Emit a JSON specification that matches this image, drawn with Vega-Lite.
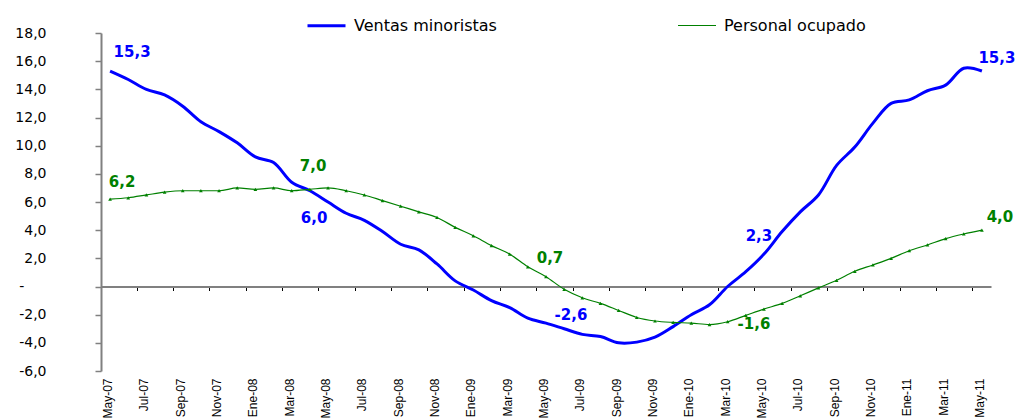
{
  "$schema": "https://vega.github.io/schema/vega-lite/v6.json",
  "autosize": {"type": "none"},
  "padding": {"left": 101, "top": 33, "right": 26, "bottom": 48},
  "width": 890,
  "height": 338,
  "background": "white",
  "config": {
    "view": {"stroke": null},
    "font": "DejaVu Sans",
    "locale": {"number": {"decimal": ",", "thousands": ".", "grouping": [3], "currency": ["", " €"], "minus": "-"}}
  },
  "data": {"values": [
    {"mes": "May-07", "Ventas minoristas": 15.3, "Personal ocupado": 6.2},
    {"mes": "Jun-07", "Ventas minoristas": 14.7, "Personal ocupado": 6.3},
    {"mes": "Jul-07", "Ventas minoristas": 14.0, "Personal ocupado": 6.5},
    {"mes": "Ago-07", "Ventas minoristas": 13.6, "Personal ocupado": 6.7},
    {"mes": "Sep-07", "Ventas minoristas": 12.8, "Personal ocupado": 6.8},
    {"mes": "Oct-07", "Ventas minoristas": 11.7, "Personal ocupado": 6.8},
    {"mes": "Nov-07", "Ventas minoristas": 11.0, "Personal ocupado": 6.8},
    {"mes": "Dic-07", "Ventas minoristas": 10.2, "Personal ocupado": 7.0},
    {"mes": "Ene-08", "Ventas minoristas": 9.2, "Personal ocupado": 6.9},
    {"mes": "Feb-08", "Ventas minoristas": 8.8, "Personal ocupado": 7.0},
    {"mes": "Mar-08", "Ventas minoristas": 7.4, "Personal ocupado": 6.8},
    {"mes": "Abr-08", "Ventas minoristas": 6.8, "Personal ocupado": 6.9},
    {"mes": "May-08", "Ventas minoristas": 6.0, "Personal ocupado": 7.0},
    {"mes": "Jun-08", "Ventas minoristas": 5.2, "Personal ocupado": 6.8},
    {"mes": "Jul-08", "Ventas minoristas": 4.7, "Personal ocupado": 6.5},
    {"mes": "Ago-08", "Ventas minoristas": 3.9, "Personal ocupado": 6.1},
    {"mes": "Sep-08", "Ventas minoristas": 3.0, "Personal ocupado": 5.7},
    {"mes": "Oct-08", "Ventas minoristas": 2.6, "Personal ocupado": 5.3},
    {"mes": "Nov-08", "Ventas minoristas": 1.6, "Personal ocupado": 4.9},
    {"mes": "Dic-08", "Ventas minoristas": 0.4, "Personal ocupado": 4.2},
    {"mes": "Ene-09", "Ventas minoristas": -0.25, "Personal ocupado": 3.6},
    {"mes": "Feb-09", "Ventas minoristas": -1.0, "Personal ocupado": 2.9},
    {"mes": "Mar-09", "Ventas minoristas": -1.5, "Personal ocupado": 2.3},
    {"mes": "Abr-09", "Ventas minoristas": -2.25, "Personal ocupado": 1.4},
    {"mes": "May-09", "Ventas minoristas": -2.6, "Personal ocupado": 0.7},
    {"mes": "Jun-09", "Ventas minoristas": -3.0, "Personal ocupado": -0.2},
    {"mes": "Jul-09", "Ventas minoristas": -3.4, "Personal ocupado": -0.8},
    {"mes": "Ago-09", "Ventas minoristas": -3.55, "Personal ocupado": -1.2},
    {"mes": "Sep-09", "Ventas minoristas": -4.0, "Personal ocupado": -1.7},
    {"mes": "Oct-09", "Ventas minoristas": -3.95, "Personal ocupado": -2.2},
    {"mes": "Nov-09", "Ventas minoristas": -3.6, "Personal ocupado": -2.45},
    {"mes": "Dic-09", "Ventas minoristas": -2.85, "Personal ocupado": -2.55},
    {"mes": "Ene-10", "Ventas minoristas": -2.0, "Personal ocupado": -2.6},
    {"mes": "Feb-10", "Ventas minoristas": -1.3, "Personal ocupado": -2.7},
    {"mes": "Mar-10", "Ventas minoristas": 0.0, "Personal ocupado": -2.5},
    {"mes": "Abr-10", "Ventas minoristas": 1.05, "Personal ocupado": -2.05},
    {"mes": "May-10", "Ventas minoristas": 2.3, "Personal ocupado": -1.6},
    {"mes": "Jun-10", "Ventas minoristas": 3.9, "Personal ocupado": -1.2},
    {"mes": "Jul-10", "Ventas minoristas": 5.3, "Personal ocupado": -0.66},
    {"mes": "Ago-10", "Ventas minoristas": 6.5, "Personal ocupado": -0.1},
    {"mes": "Sep-10", "Ventas minoristas": 8.6, "Personal ocupado": 0.44},
    {"mes": "Oct-10", "Ventas minoristas": 9.9, "Personal ocupado": 1.08},
    {"mes": "Nov-10", "Ventas minoristas": 11.6, "Personal ocupado": 1.53},
    {"mes": "Dic-10", "Ventas minoristas": 13.0, "Personal ocupado": 2.0},
    {"mes": "Ene-11", "Ventas minoristas": 13.25, "Personal ocupado": 2.54},
    {"mes": "Feb-11", "Ventas minoristas": 13.9, "Personal ocupado": 2.95},
    {"mes": "Mar-11", "Ventas minoristas": 14.3, "Personal ocupado": 3.4},
    {"mes": "Abr-11", "Ventas minoristas": 15.5, "Personal ocupado": 3.73},
    {"mes": "May-11", "Ventas minoristas": 15.3, "Personal ocupado": 4.0}
  ]},
  "transform": [{"fold": ["Ventas minoristas", "Personal ocupado"], "as": ["serie", "valor"]}],
  "resolve": {"axis": {"x": "independent"}},
  "encoding": {
    "y": {
      "field": "valor", "type": "quantitative",
      "scale": {"domain": [-6, 18], "nice": false, "zero": false},
      "axis": {
        "title": null, "grid": false,
        "values": [-6, -4, -2, 0, 2, 4, 6, 8, 10, 12, 14, 16, 18],
        "domainColor": "#808080", "domainWidth": 2, "tickColor": "#808080", "tickSize": 6, "tickWidth": 1.5,
        "labelPadding": 49, "labelFont": "DejaVu Sans", "labelFontSize": 14, "labelColor": "#000000",
        "labelExpr": "datum.value == 0 ? '-\u00a0\u00a0\u00a0\u00a0\u00a0\u200b' : replace(replace(format(datum.value, '.1f'), '.', ','), '\u2212', '-')"
      }
    }
  },
  "layer": [
    {
      "encoding": {
        "x": {
          "field": "mes", "type": "ordinal", "sort": null,
          "scale": {"type": "band", "paddingInner": 0, "paddingOuter": 0},
          "axis": {
            "orient": "bottom", "title": null, "domain": false, "ticks": false, "grid": false,
            "values": ["May-07","Jul-07","Sep-07","Nov-07","Ene-08","Mar-08","May-08","Jul-08","Sep-08","Nov-08","Ene-09","Mar-09","May-09","Jul-09","Sep-09","Nov-09","Ene-10","Mar-10","May-10","Jul-10","Sep-10","Nov-10","Ene-11","Mar-11","May-11"],
            "labelAngle": -90, "labelAlign": "right", "labelBaseline": "middle", "labelPadding": 7,
            "labelFont": "Liberation Sans", "labelFontSize": 12, "labelColor": "#000000", "labelOverlap": false, "labelOffset": -2
          }
        }
      },
      "layer": [
        {
          "transform": [{"filter": "datum.serie == 'Ventas minoristas'"}],
          "mark": {"type": "line", "interpolate": "catmull-rom"},
          "encoding": {
            "color": {
              "field": "serie", "type": "nominal",
              "scale": {"domain": ["Ventas minoristas", "Personal ocupado"], "range": ["#0000FF", "#008000"]},
              "legend": {
                "orient": "none", "legendX": 205, "legendY": -28, "direction": "horizontal", "title": null,
                "symbolType": "stroke", "symbolSize": 1444, "labelFont": "DejaVu Sans", "labelFontSize": 16,
                "labelColor": "#000000", "columnPadding": 178, "labelOffset": 7
              }
            },
            "strokeWidth": {
              "field": "serie", "type": "nominal",
              "scale": {"domain": ["Ventas minoristas", "Personal ocupado"], "range": [3, 1.2]},
              "legend": {
                "orient": "none", "legendX": 205, "legendY": -28, "direction": "horizontal", "title": null,
                "symbolType": "stroke", "symbolSize": 1444, "labelFont": "DejaVu Sans", "labelFontSize": 16,
                "labelColor": "#000000", "columnPadding": 178, "labelOffset": 7
              }
            }
          }
        },
        {
          "transform": [{"filter": "datum.serie == 'Personal ocupado'"}],
          "mark": {"type": "line", "interpolate": "monotone"},
          "encoding": {
            "color": {"field": "serie", "type": "nominal"},
            "strokeWidth": {"field": "serie", "type": "nominal"}
          }
        },
        {
          "transform": [{"filter": "datum.serie == 'Personal ocupado'"}],
          "mark": {"type": "point", "shape": "triangle-up", "filled": true, "size": 14, "color": "#008000", "opacity": 1}
        },
        {
          "transform": [{"filter": "datum.serie == 'Ventas minoristas' && datum.mes == 'May-07'"}],
          "mark": {"type": "text", "dx": 22, "dy": -19, "font": "DejaVu Sans", "fontSize": 15, "fontWeight": "bold", "color": "#0000FF"},
          "encoding": {"text": {"field": "valor", "type": "quantitative", "format": ".1f"}}
        },
        {
          "transform": [{"filter": "datum.serie == 'Ventas minoristas' && datum.mes == 'May-08'"}],
          "mark": {"type": "text", "dx": -14, "dy": 16, "font": "DejaVu Sans", "fontSize": 15, "fontWeight": "bold", "color": "#0000FF"},
          "encoding": {"text": {"field": "valor", "type": "quantitative", "format": ".1f"}}
        },
        {
          "transform": [{"filter": "datum.serie == 'Ventas minoristas' && datum.mes == 'May-09'"}],
          "mark": {"type": "text", "dx": 25, "dy": -8, "font": "DejaVu Sans", "fontSize": 15, "fontWeight": "bold", "color": "#0000FF"},
          "encoding": {"text": {"field": "valor", "type": "quantitative", "format": ".1f"}}
        },
        {
          "transform": [{"filter": "datum.serie == 'Ventas minoristas' && datum.mes == 'May-10'"}],
          "mark": {"type": "text", "dx": -5, "dy": -18, "font": "DejaVu Sans", "fontSize": 15, "fontWeight": "bold", "color": "#0000FF"},
          "encoding": {"text": {"field": "valor", "type": "quantitative", "format": ".1f"}}
        },
        {
          "transform": [{"filter": "datum.serie == 'Ventas minoristas' && datum.mes == 'May-11'"}],
          "mark": {"type": "text", "dx": 15, "dy": -13, "font": "DejaVu Sans", "fontSize": 15, "fontWeight": "bold", "color": "#0000FF"},
          "encoding": {"text": {"field": "valor", "type": "quantitative", "format": ".1f"}}
        },
        {
          "transform": [{"filter": "datum.serie == 'Personal ocupado' && datum.mes == 'May-07'"}],
          "mark": {"type": "text", "dx": 12, "dy": -17, "font": "DejaVu Sans", "fontSize": 15, "fontWeight": "bold", "color": "#008000"},
          "encoding": {"text": {"field": "valor", "type": "quantitative", "format": ".1f"}}
        },
        {
          "transform": [{"filter": "datum.serie == 'Personal ocupado' && datum.mes == 'May-08'"}],
          "mark": {"type": "text", "dx": -15, "dy": -22, "font": "DejaVu Sans", "fontSize": 15, "fontWeight": "bold", "color": "#008000"},
          "encoding": {"text": {"field": "valor", "type": "quantitative", "format": ".1f"}}
        },
        {
          "transform": [{"filter": "datum.serie == 'Personal ocupado' && datum.mes == 'May-09'"}],
          "mark": {"type": "text", "dx": 4, "dy": -19, "font": "DejaVu Sans", "fontSize": 15, "fontWeight": "bold", "color": "#008000"},
          "encoding": {"text": {"field": "valor", "type": "quantitative", "format": ".1f"}}
        },
        {
          "transform": [{"filter": "datum.serie == 'Personal ocupado' && datum.mes == 'May-10'"}],
          "mark": {"type": "text", "dx": -10, "dy": 15, "font": "DejaVu Sans", "fontSize": 15, "fontWeight": "bold", "color": "#008000"},
          "encoding": {"text": {"field": "valor", "type": "quantitative", "format": ".1f"}}
        },
        {
          "transform": [{"filter": "datum.serie == 'Personal ocupado' && datum.mes == 'May-11'"}],
          "mark": {"type": "text", "dx": 18, "dy": -13, "font": "DejaVu Sans", "fontSize": 15, "fontWeight": "bold", "color": "#008000"},
          "encoding": {"text": {"field": "valor", "type": "quantitative", "format": ".1f"}}
        }
      ]
    },
    {
      "mark": {"type": "point", "opacity": 0},
      "encoding": {
        "x": {
          "field": "mes", "type": "ordinal", "sort": null,
          "scale": {"type": "band", "paddingInner": 0, "paddingOuter": 0},
          "axis": {
            "orient": "bottom", "offset": -84.5, "title": null, "labels": false, "grid": false,
            "values": ["May-07","Jul-07","Sep-07","Nov-07","Ene-08","Mar-08","May-08","Jul-08","Sep-08","Nov-08","Ene-09","Mar-09","May-09","Jul-09","Sep-09","Nov-09","Ene-10","Mar-10","May-10","Jul-10","Sep-10","Nov-10","Ene-11","Mar-11","May-11"],
            "bandPosition": 0, "ticks": true, "tickSize": 4, "tickColor": "#000000", "tickWidth": 1,
            "domainColor": "#808080", "domainWidth": 2
          }
        }
      }
    }
  ]
}
